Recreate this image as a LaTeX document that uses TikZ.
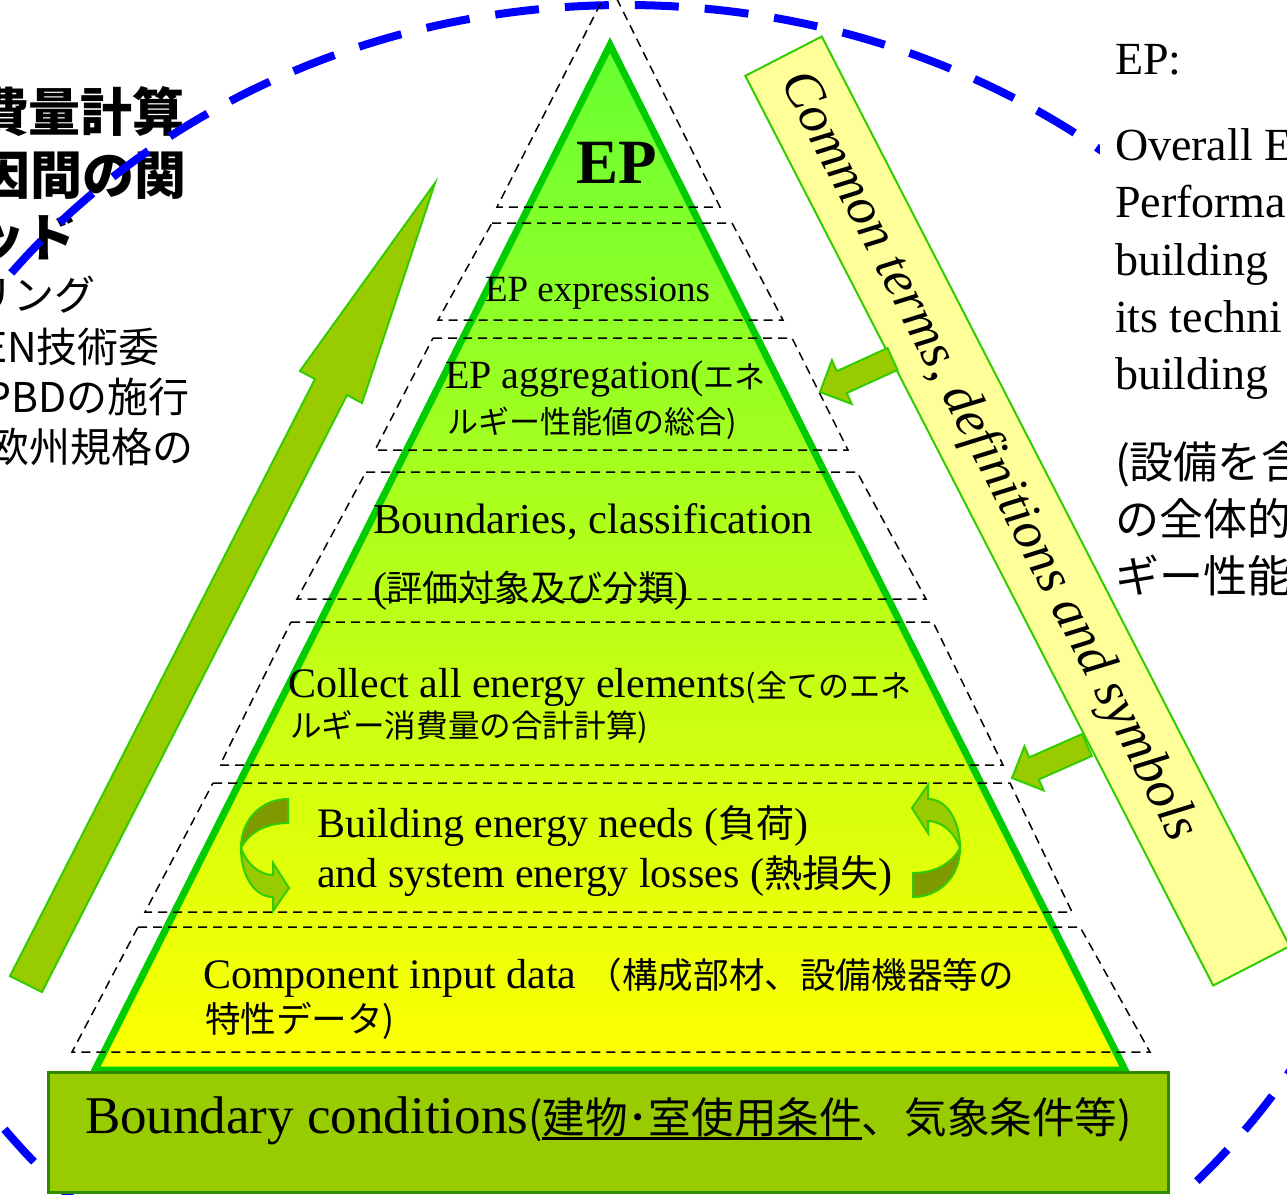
\documentclass[tikz,border=0pt]{standalone}
\usepackage{fontspec}
\setmainfont{Liberation Serif}
\newfontfamily\cjk{Noto Sans CJK JP}
\usetikzlibrary{calc}
\definecolor{cPyr}{HTML}{00CC00}
\definecolor{cOlive}{HTML}{99CC00}
\definecolor{cOliveDark}{HTML}{7F9900}
\definecolor{cEdge}{HTML}{33CC00}
\definecolor{cBand}{HTML}{FFFF99}
\definecolor{cTop}{HTML}{66FF33}
\definecolor{cBar}{HTML}{2E8B00}
\newcommand{\setfs}[1]{\fontsize{#1}{#1}\selectfont}
\newsavebox\ulbox
\newcommand{\thul}[1]{\sbox\ulbox{#1}\rlap{\rule[-3.25pt]{\wd\ulbox}{1.5pt}}\usebox\ulbox}
\begin{document}
\begin{tikzpicture}[x=0.5pt,y=-0.5pt,
  dashbox/.style={draw=black, line width=0.75pt, dash pattern=on 4.5pt off 3pt},
  lbl/.style={anchor=base west, inner sep=0pt, outer sep=0pt, text=black},
  lblr/.style={anchor=base east, inner sep=0pt, outer sep=0pt, text=black},
  blockarrow/.style={fill=cOlive, draw=cEdge, line width=1pt, line join=miter},
  curvedarrow/.pic={
    \draw[fill=cOliveDark, draw=cEdge, line width=1pt] (24,-56) .. controls (-2,-56) and (-23,-36) .. (-23,-7) .. controls (-14,-24) and (4,-32) .. (24,-32) -- cycle;
    \draw[fill=cOlive, draw=cEdge, line width=1pt] (-23,-7) .. controls (-23,20) and (-10,42) .. (9,42) -- (9,56) -- (25,33) -- (9,8) -- (9,20) .. controls (-5,20) and (-18,8) .. (-23,-7) -- cycle;
  }]
\useasboundingbox (0,0) rectangle (1287,1195);
\clip (0,0) rectangle (1287,1195);

% left clipped text
\node[lblr] (l1) at (185,131) {\cjk\bfseries\setfs{26}費量計算};
\node[lblr] (l2) at (187,194) {\cjk\bfseries\setfs{26}因間の関};
\node[lblr] (l3) at (78,256) {\cjk\bfseries\setfs{26}ッド};
\node[lblr] (l4) at (96,310) {\cjk\setfs{20.5}リング};
\node[lblr] (l5) at (160,362) {\cjk\setfs{20.5}EN技術委};
\node[lblr] (l6) at (190,412) {\cjk\setfs{20.5}PBDの施行};
\node[lblr] (l7) at (194,462) {\cjk\setfs{20.5}欧州規格の};

% blue dashed ellipse
\draw[blue, line width=4pt, dash pattern=on 22pt off 13pt] (625,705) ellipse [x radius=780, y radius=700];

% white panel behind the right-hand text
\fill[white] (1100,25) rectangle (1287,610);

% big up arrow
\draw[blockarrow] (10,976) -- (315,379) -- (300,371) -- (435,183) -- (362,403) -- (347,395) -- (42,992) -- cycle;

% pyramid
\shade[top color=cTop, bottom color=yellow] (610,45) -- (1125,1070) -- (95,1070) -- cycle;
\draw[draw=cPyr, line width=3.5pt, line join=miter] (610,45) -- (1125,1070) -- (95,1070) -- cycle;

% dashed levels
\draw[dashbox] (610,-15) -- (720,207) -- (497,207) -- cycle;
\draw[dashbox] (492,223) -- (732,223) -- (783,320) -- (438,320) -- cycle;
\draw[dashbox] (433,338) -- (792,338) -- (848,450) -- (375,450) -- cycle;
\draw[dashbox] (366,472) -- (857,472) -- (926,599) -- (297,599) -- cycle;
\draw[dashbox] (291,622) -- (933,622) -- (1003,765) -- (220,765) -- cycle;
\draw[dashbox] (213,783) -- (1010,783) -- (1072,912) -- (145,912) -- cycle;
\draw[dashbox] (138,927) -- (1080,927) -- (1150,1052) -- (72,1052) -- cycle;

% band
\node[rotate=-62.78, minimum width=511.5pt, minimum height=43pt, fill=cBand, draw=cEdge, line width=1pt, inner sep=0pt] (band) at (1017.5,511) {};
\node[rotate=-62.78, inner sep=0pt] (bandtext) at (988,457) {\setfs{26.75}\itshape Common terms, definitions and symbols};

% small arrows from band
\draw[blockarrow] (887.5,348.1) -- (836.8,371.2) -- (831.9,360.3) -- (820,392) -- (851.7,403.9) -- (846.8,393.0) -- (897.5,369.9) -- cycle;
\draw[blockarrow] (1082.2,734) -- (1029.2,757.4) -- (1024.4,746.4) -- (1012,778) -- (1043.6,790.4) -- (1038.8,779.4) -- (1091.8,756) -- cycle;

% curved arrows
\pic at (264,855) {curvedarrow};
\pic[rotate=180] at (937,841) {curvedarrow};

% pyramid texts
\node[lbl, anchor=base] (t1) at (617,183) {\bfseries\setfs{31.5}EP};
\node[lbl] (t2) at (485,301) {\setfs{18.5}EP expressions};
\node[lbl] (t3a) at (445,388) {\setfs{20}EP aggregation({\cjk\setfs{15.5}エネ}};
\node[lbl] (t3b) at (447,433) {\cjk\setfs{15.5}ルギー性能値の総合)};
\node[lbl] (t4a) at (373,533) {\setfs{21.3}Boundaries, classification};
\node[lbl] (t4b) at (373,601) {\setfs{21}({\cjk\setfs{18}評価対象及び分類})};
\node[lbl] (t5a) at (288,697) {\setfs{21}Collect all energy elements{\cjk\setfs{15.5}(全てのエネ}};
\node[lbl] (t5b) at (290,737) {\cjk\setfs{15.8}ルギー消費量の合計計算)};
\node[lbl] (t6a) at (317,837) {\setfs{21}Building energy needs ({\cjk\setfs{19}負荷})};
\node[lbl] (t6b) at (317,887) {\setfs{21}and system energy losses ({\cjk\setfs{19}熱損失})};
\node[lbl] (t7a) at (203,988) {\setfs{21}Component input data {\cjk\setfs{17.8}（構成部材、設備機器等の}};
\node[lbl] (t7b) at (205,1032) {\cjk\setfs{17.8}特性データ)};

% bottom bar
\node[draw=cBar, fill=cOlive, line width=1.5pt, minimum width=560pt, minimum height=60pt, inner sep=0pt] (bar) at (608,1132) {};
\node[lbl] (t8) at (85,1133) {\setfs{26.5}Boundary conditions{\cjk\setfs{21.3}(\thul{建物･室使用条件}、気象条件等)}};

% right text
\node[lbl] (r1) at (1115,74) {\setfs{23}EP:};
\node[lbl] (r2) at (1115,160) {\setfs{23}Overall E};
\node[lbl] (r3) at (1115,217) {\setfs{23}Performa};
\node[lbl] (r4) at (1115,275) {\setfs{23}building};
\node[lbl] (r5) at (1115,332) {\setfs{23}its techni};
\node[lbl] (r6) at (1115,389) {\setfs{23}building};
\node[lbl] (r7) at (1115,478) {\cjk\setfs{22}(設備を含};
\node[lbl] (r8) at (1115,535) {\cjk\setfs{22}の全体的};
\node[lbl] (r9) at (1115,592) {\cjk\setfs{22}ギー性能};
\end{tikzpicture}
\end{document}
